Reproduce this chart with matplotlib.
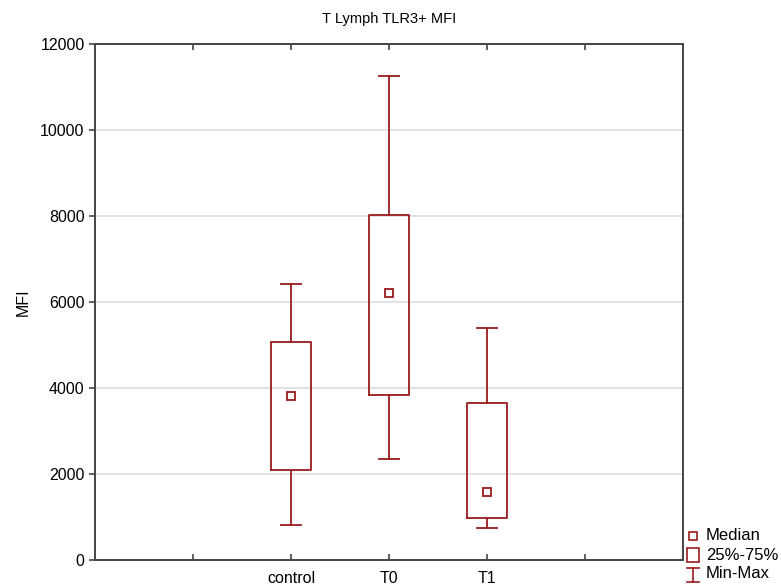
import numpy as np
import matplotlib.pyplot as plt
from matplotlib.patches import Rectangle
from matplotlib.lines import Line2D

plt.rcParams['font.family'] = ['Liberation Sans', 'DejaVu Sans']

groups = ["control", "T0", "T1"]
mins = [810, 2340, 740]
q1s = [2090, 3840, 970]
medians = [3810, 6200, 1590]
q3s = [5070, 8020, 3660]
maxs = [6420, 11260, 5390]

red = "#9a1b1e"
spine_col = "#444444"

fig = plt.figure(figsize=(7.81, 5.86), dpi=100)
ax = fig.add_axes([95 / 781, 26 / 586, 588 / 781, 516 / 586])

pos = [2, 3, 4]
stats = []
for g, lo, a, m, b, hi in zip(groups, mins, q1s, medians, q3s, maxs):
    stats.append(dict(label=g, whislo=lo, q1=a, med=m, q3=b, whishi=hi, fliers=[]))

style = dict(color=red, linewidth=1.3)
ax.bxp(stats, positions=pos, widths=0.4, capwidths=0.2, showfliers=False,
       boxprops=style, whiskerprops=style, capprops=style,
       medianprops=dict(linewidth=0), manage_ticks=False)
ax.plot(pos, medians, linestyle="none", marker="s", markersize=6,
        markerfacecolor="white", markeredgecolor=red, markeredgewidth=1.3, zorder=5)

ax.set_xlim(0, 6)
ax.set_ylim(0, 12000)
ax.set_xticks([1, 2, 3, 4, 5])
ax.set_xticklabels(["", "control", "T0", "T1", ""])
ax.set_yticks(np.arange(0, 12001, 2000))
ax.yaxis.grid(True, color="#dddddd", linewidth=1.2)
ax.set_axisbelow(True)
ax.tick_params(axis="x", direction="in", top=True, length=4, width=1.2,
               color=spine_col, labelsize=11.5, pad=8)
ax.tick_params(axis="y", direction="out", length=4, width=1.2,
               color=spine_col, labelsize=11.5)
for s in ax.spines.values():
    s.set_color(spine_col)
    s.set_linewidth(1.4)

ax.set_ylabel("MFI", fontsize=11.5, labelpad=7)
ax.set_title("T Lymph TLR3+ MFI", fontsize=10.5, pad=15)

# legend drawn beside the plot, bottom right
def fx(px):
    return px / 781

def fy(py):
    return 1 - py / 586

fig.add_artist(Line2D([fx(693)], [fy(536)], marker="s", markersize=5.5,
                      markerfacecolor="white", markeredgecolor=red,
                      markeredgewidth=1.2, linestyle="none"))
fig.add_artist(Rectangle((fx(687), fy(562)), fx(12), 14 / 586,
                         facecolor="white", edgecolor=red, linewidth=1.2))
fig.add_artist(Line2D([fx(693), fx(693)], [fy(568), fy(582)], color=red, linewidth=1.2))
fig.add_artist(Line2D([fx(687), fx(699)], [fy(568), fy(568)], color=red, linewidth=1.2))
fig.add_artist(Line2D([fx(687), fx(699)], [fy(582), fy(582)], color=red, linewidth=1.2))
for txt, py in [("Median", 536), ("25%-75%", 555), ("Min-Max", 574)]:
    fig.text(fx(706), fy(py), txt, fontsize=12, va="center", ha="left")

fig.savefig("out.png", dpi=100)
